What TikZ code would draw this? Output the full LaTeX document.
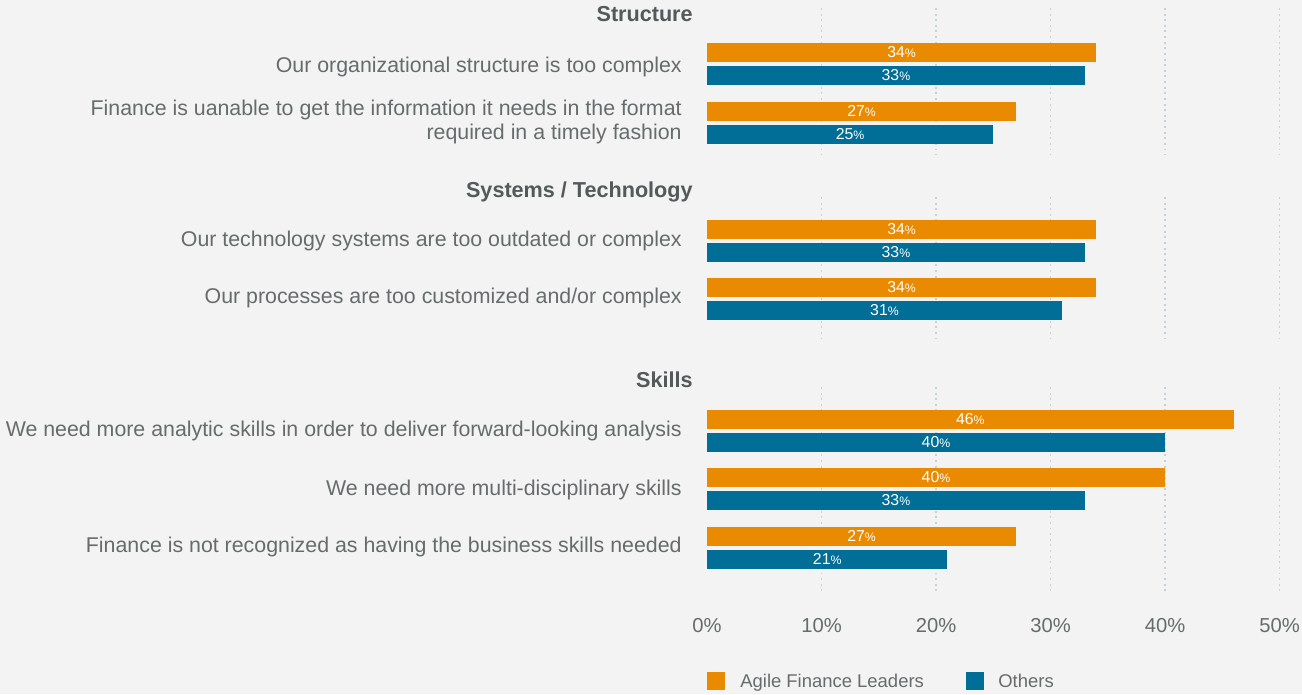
\documentclass[tikz,border=0pt]{standalone}
\usepackage{fontspec}
\setmainfont{Liberation Sans}
\definecolor{bg}{HTML}{F2F3F2}
\definecolor{agile}{HTML}{EA8A00}
\definecolor{others}{HTML}{006E96}
\definecolor{txt}{HTML}{686B6C}
\definecolor{head}{HTML}{55595A}
\definecolor{gridc}{HTML}{C8D0D8}
\newcommand\pct[1]{#1{\fontsize{7}{8}\selectfont\%}}

\begin{document}
\begin{tikzpicture}[x=0.02cm,y=-0.02cm,
  lab/.style={anchor=base east,text=txt,font=\fontsize{12.15}{13.9}\selectfont,align=right,inner sep=0pt},
  hd/.style={anchor=base east,text=head,font=\bfseries\fontsize{12.3}{14}\selectfont,inner sep=0pt},
  val/.style={anchor=base,text=white,font=\fontsize{9}{10}\selectfont,inner sep=0pt},
  tck/.style={text=txt,font=\fontsize{11.5}{13}\selectfont,inner sep=0pt},
  gridline/.style={gridc,line width=1.1pt,dash pattern=on 1.1pt off 2.1pt}]
		\fill[bg] (0,0) rectangle (1302,694);
		% dotted grid, one piece per group
		\foreach \p in {10,20,30,40,50} {
			\draw[gridline] (707+11.45*\p,8) -- (707+11.45*\p,155);
			\draw[gridline] (707+11.45*\p,197) -- (707+11.45*\p,343);
			\draw[gridline] (707+11.45*\p,387) -- (707+11.45*\p,595);
		}
		% bars: centre of the orange bar / agile / others
		\foreach \yc/\a/\o [count=\i] in {52.5/34/33, 111.5/27/25, 229.5/34/33, 287.5/34/31,
				419.5/46/40, 477.5/40/33, 536.5/27/21} {
			\fill[agile] (707,\yc-9.5) rectangle (707+11.45*\a,\yc+9.5);
			\node[val] (a\i) at (707+5.725*\a,\yc+5) {\pct{\a}};
			\fill[others] (707,\yc+13.5) rectangle (707+11.45*\o,\yc+32.5);
			\node[val] (o\i) at (707+5.725*\o,\yc+28) {\pct{\o}};
		}
		\node[hd] (structure) at (693,21.5) {Structure};
		\node[hd] (systems) at (693,197) {Systems / Technology};
		\node[hd] (skills) at (693,387) {Skills};
		\node[lab] (l1) at (682,72.5) {Our organizational structure is too complex};
		\node[lab] (l2) at (682,139.5) {Finance is uanable to get the information it needs in the format\\required in a timely fashion};
		\node[lab] (l3) at (682,246) {Our technology systems are too outdated or complex};
		\node[lab] (l4) at (682,303.3) {Our processes are too customized and/or complex};
		\node[lab] (l5) at (682,436.7) {We need more analytic skills in order to deliver forward-looking analysis};
		\node[lab] (l6) at (682,495) {We need more multi-disciplinary skills};
		\node[lab] (l7) at (682,552.7) {Finance is not recognized as having the business skills needed};
		% axis
		\foreach \p in {0,10,20,30,40,50}
			\node[tck] (t\p) at (707+11.45*\p,626) {\p\%};
		% legend
		\fill[agile] (707,672) rectangle (725,690);
		\node[tck,anchor=base west,font=\fontsize{10.5}{12}\selectfont] (leg1) at (740,687) {Agile Finance Leaders};
		\fill[others] (966,672) rectangle (984,690);
		\node[tck,anchor=base west,font=\fontsize{10.5}{12}\selectfont] (leg2) at (998,687) {Others};
\end{tikzpicture}
\end{document}
